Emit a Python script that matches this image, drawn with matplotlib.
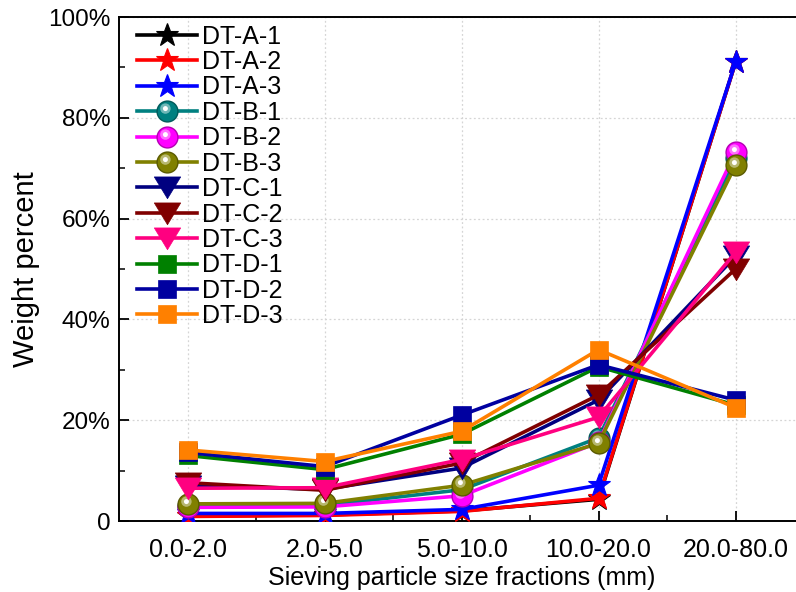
import matplotlib
matplotlib.use("Agg")
import matplotlib.pyplot as plt
import numpy as np
from matplotlib.path import Path
from matplotlib.legend_handler import HandlerTuple
from matplotlib.ticker import MultipleLocator, FixedLocator
import matplotlib.colors as mcolors

plt.rcParams['font.family'] = ['Liberation Sans', 'DejaVu Sans']

categories = ["0.0-2.0", "2.0-5.0", "5.0-10.0", "10.0-20.0", "20.0-80.0"]
labels = ["DT-A-1", "DT-A-2", "DT-A-3", "DT-B-1", "DT-B-2", "DT-B-3",
          "DT-C-1", "DT-C-2", "DT-C-3", "DT-D-1", "DT-D-2", "DT-D-3"]
A1 = [1.0, 1.2, 2.0, 4.3, 91.0]
A2 = [0.9, 1.1, 1.9, 4.5, 91.0]
A3 = [1.5, 1.5, 2.3, 7.1, 91.0]
B1 = [3.0, 3.1, 6.2, 16.5, 72.0]
B2 = [2.7, 2.8, 5.0, 15.6, 73.2]
B3 = [3.4, 3.5, 7.1, 15.4, 70.6]
C1 = [7.0, 6.3, 10.5, 24.0, 52.5]
C2 = [7.6, 6.1, 11.5, 25.0, 50.0]
C3 = [6.5, 6.6, 12.2, 20.6, 53.3]
D1 = [13.0, 10.2, 17.2, 30.6, 23.0]
D2 = [13.6, 10.8, 21.0, 31.0, 24.0]
D3 = [14.1, 11.8, 17.8, 34.0, 22.5]
series = [A1, A2, A3, B1, B2, B3, C1, C2, C3, D1, D2, D3]
colors = ["#000000", "#FF0000", "#0000FF", "#008080", "#FF00FF", "#808000",
          "#000080", "#800000", "#FF0080", "#008000", "#0000A0", "#FF8000"]
yticks = [0, 20, 40, 60, 80, 100]
yticklabels = ["0", "20%", "40%", "60%", "80%", "100%"]

# custom markers
tri = Path([(-1, 0.8), (1, 0.8), (0, -0.85), (-1, 0.8)],
           [Path.MOVETO, Path.LINETO, Path.LINETO, Path.CLOSEPOLY])

def offset_circle(cx, cy, r):
    c = Path.circle((cx, cy), r)
    verts = np.vstack([[[1, 1]], [[-1, -1]], c.vertices])
    codes = np.concatenate([[Path.MOVETO, Path.MOVETO], c.codes])
    return Path(verts, codes)

hl1 = offset_circle(-0.2, 0.28, 0.5)
hl2 = offset_circle(-0.2, 0.28, 0.24)

fig = plt.figure(figsize=(7.96, 5.92), dpi=100)
ax = fig.add_axes([119/796, 71/592, 685/796, 504/592])
x = np.arange(len(categories))

handles = []
for i, (lab, vals, col) in enumerate(zip(labels, series, colors)):
    grp = i // 3
    if grp == 0:
        kw = dict(marker='*', markersize=17, markeredgecolor=col, markeredgewidth=0.8)
    elif grp == 1:
        dark = tuple(np.array(mcolors.to_rgb(col)) * 0.7)
        kw = dict(marker='o', markersize=15, markeredgecolor=dark, markeredgewidth=1.0)
    elif grp == 2:
        kw = dict(marker=tri, markersize=19, markeredgecolor=col, markeredgewidth=0.5)
    else:
        kw = dict(marker='s', markersize=13.5, markeredgecolor=col, markeredgewidth=0.5)
    ln, = ax.plot(x, vals, color=col, lw=2.6, markerfacecolor=col, zorder=3 + i, **kw)
    if grp == 1:
        light = tuple(np.array(mcolors.to_rgb(col)) * 0.45 + 0.55)
        h1, = ax.plot(x, vals, ls='none', marker=hl1, markersize=15,
                      markerfacecolor=light, markeredgewidth=0, alpha=0.8, zorder=3 + i)
        h2, = ax.plot(x, vals, ls='none', marker=hl2, markersize=15,
                      markerfacecolor='white', markeredgewidth=0, zorder=3 + i)
        handles.append((ln, h1, h2))
    else:
        handles.append(ln)

ax.set_xlim(-0.5, 4.5)
ax.set_ylim(0, 100)
ax.set_xticks(x)
ax.set_xticklabels(categories, fontsize=18)
ax.xaxis.set_minor_locator(FixedLocator(x[:-1] + 0.5))
ax.set_yticks(yticks)
ax.set_yticklabels(yticklabels, fontsize=17.5)
ax.yaxis.set_minor_locator(MultipleLocator(10))
ax.tick_params(axis='both', which='major', direction='in', length=7, width=1.3)
ax.tick_params(axis='both', which='minor', direction='in', length=4, width=1.1)
ax.tick_params(axis='x', which='major', pad=12)
ax.tick_params(axis='y', which='major', pad=6)
ax.tick_params(axis='x', which='both', top=False)
ax.tick_params(axis='y', which='both', right=False)
for s in ax.spines.values():
    s.set_linewidth(1.4)
ax.grid(True, which='major', color='#D5D5D5', linestyle=(0, (1.5, 2)), lw=0.9)
ax.set_axisbelow(True)
ax.set_xlabel("Sieving particle size fractions (mm)", fontsize=18, labelpad=3)
ax.set_ylabel("Weight percent", fontsize=21, labelpad=6)

leg = ax.legend(handles, labels, loc='upper left', frameon=False, fontsize=18,
                handlelength=2.4, handletextpad=0.2, labelspacing=0.057,
                borderaxespad=0, borderpad=0, bbox_to_anchor=(0.027, 0.985),
                handler_map={tuple: HandlerTuple(ndivide=1, pad=0)})

fig.savefig("out.png", dpi=100)
